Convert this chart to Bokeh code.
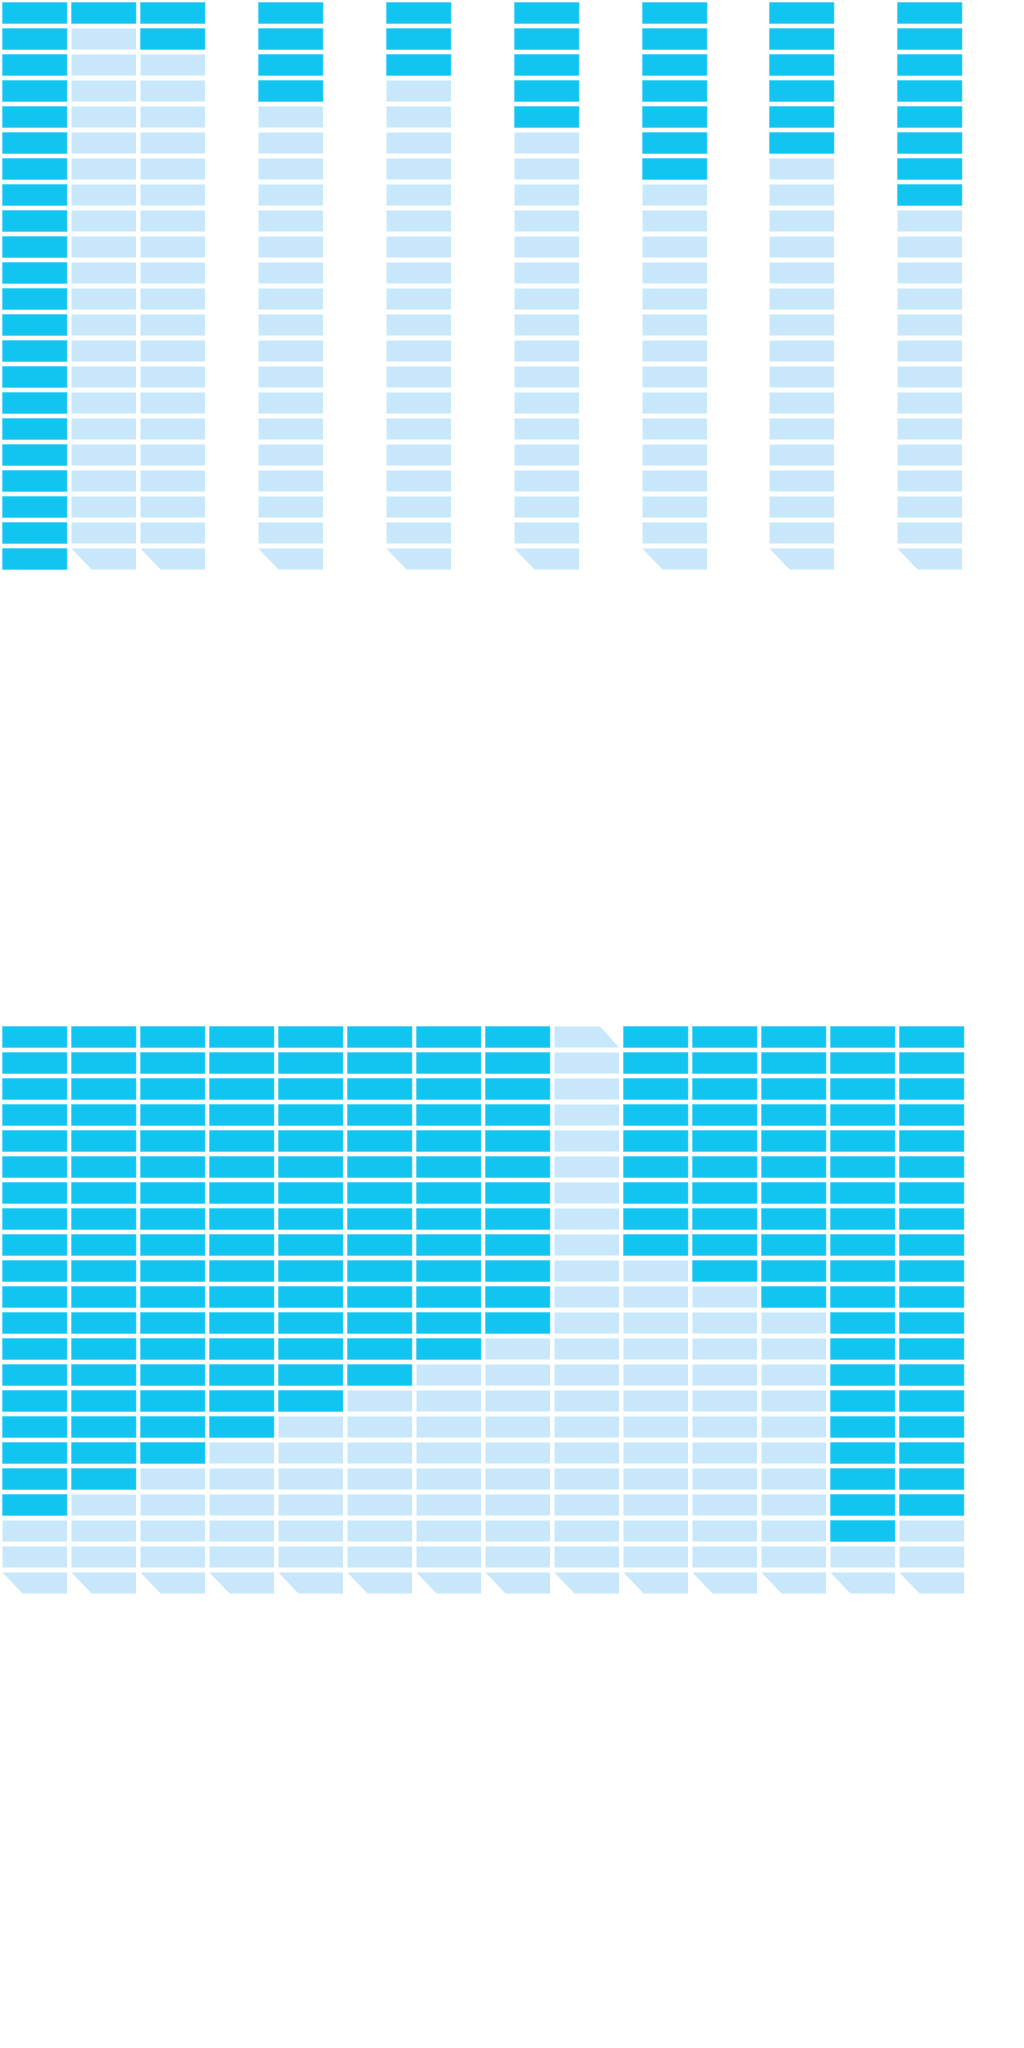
from bokeh.plotting import figure
from bokeh.models import Range1d, ColumnDataSource
from bokeh.layouts import column
from bokeh.embed import file_html
from bokeh.resources import INLINE

# ---------------- data ----------------
ROWS = 22  # number of blocks per column (scale maximum)

top_categories = ["A1", "A2", "A3", "B", "C", "D", "E", "F", "G"]
top_values = [22, 1, 2, 4, 3, 5, 7, 6, 8]

bottom_categories = ["1", "2", "3", "4", "5", "6", "7", "8", "9", "10", "11", "12", "13", "14"]
bottom_values = [19, 18, 17, 16, 15, 14, 13, 12, 0, 9, 10, 11, 20, 19]

# ---------------- layout / style ----------------
DARK = "#12C5F0"
DARK_EDGE = "#45D2F3"
LIGHT = "#C8E7FA"
PANEL = 1024
ROW_PITCH = 26.0      # px per row
ROW_TOP = 2.0         # px offset of first row
BLOCK_H = 21.0 / ROW_PITCH   # in row units
BLOCK_W = 64.5        # px
CUT = 20.0            # chamfer width, px

top_left_edges = [2, 71, 140, 258, 386, 514, 642, 769, 897]
bottom_left_edges = [2 + 69 * i for i in range(len(bottom_categories))]


def make_panel(categories, values, lefts):
    p = figure(width=PANEL, height=PANEL, output_backend="svg", toolbar_location=None,
               x_range=Range1d(0, PANEL),
               y_range=Range1d((PANEL - ROW_TOP) / ROW_PITCH, -ROW_TOP / ROW_PITCH),
               min_border=0, min_border_left=0, min_border_right=0,
               min_border_top=0, min_border_bottom=0)
    p.axis.visible = False
    p.grid.visible = False
    p.outline_line_color = None
    p.background_fill_color = "white"
    p.border_fill_color = "white"

    lq = dict(left=[], right=[], top=[], bottom=[])
    dq = dict(left=[], right=[], top=[], bottom=[])
    pxs, pys = [], []
    for cat, val, L in zip(categories, values, lefts):
        R = L + BLOCK_W
        flipped = (val == 0)
        for r in range(ROWS):
            T, B = r, r + BLOCK_H
            if r == ROWS - 1:
                pxs.append([L, R, R, L + CUT])
                pys.append([T, T, B, B])
            elif r == 0 and flipped:
                pxs.append([L, R - CUT + 1, R, L])
                pys.append([T, T, B, B])
            else:
                lq["left"].append(L); lq["right"].append(R)
                lq["top"].append(T); lq["bottom"].append(B)
        for r in range(val):
            dq["left"].append(L); dq["right"].append(R)
            dq["top"].append(r); dq["bottom"].append(r + BLOCK_H)

    p.quad(source=ColumnDataSource(lq), left="left", right="right", top="top", bottom="bottom",
           fill_color=LIGHT, line_color=None)
    p.patches(xs=pxs, ys=pys, fill_color=LIGHT, line_color=None)
    p.quad(source=ColumnDataSource(dq), left="left", right="right", top="top", bottom="bottom",
           fill_color=DARK, line_color=DARK_EDGE, line_width=0.8, line_alpha=0.7)
    return p


p1 = make_panel(top_categories, top_values, top_left_edges)
p2 = make_panel(bottom_categories, bottom_values, bottom_left_edges)
layout = column(p1, p2, spacing=0)

open("out.html", "w").write(file_html(layout, INLINE))
